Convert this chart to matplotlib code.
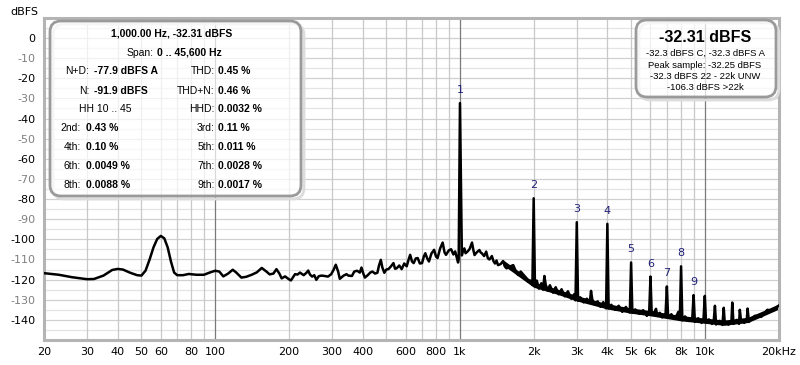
import matplotlib
matplotlib.use('Agg')
import matplotlib.pyplot as plt
import numpy as np
from matplotlib.patches import FancyBboxPatch
from matplotlib.ticker import NullLocator
from matplotlib.transforms import IdentityTransform

plt.rcParams['font.family'] = ['DejaVu Sans']
BOXFONT = ['Liberation Sans', 'DejaVu Sans']

# noise floor of the spectrum (Hz, dBFS), peaks are added from the lists below
floor_f = [20, 23, 26, 30, 32, 35, 38, 40, 42, 45, 48, 50, 52, 54, 56, 58, 60, 62, 64, 66, 68,
           70, 74, 78, 84, 90, 95, 100, 104, 108, 113, 118, 122, 128, 134, 141, 148, 155,
           162, 167, 173, 178, 183, 187, 193, 200, 204, 212, 217, 222, 230, 236, 240, 244,
           249, 254, 259, 265, 272, 280, 289, 298, 305, 311, 318, 323, 335, 344, 350, 362,
           370, 380, 390, 396, 403, 409, 420, 430, 439, 450, 460, 467, 475, 482, 491, 500,
           510, 522, 535, 543, 551, 565, 578, 592, 606, 617, 626, 637, 647, 660, 672, 686,
           700, 712, 722, 735, 747, 765, 784, 798, 810, 830, 850, 865, 877, 900, 920, 940,
           956, 970, 982, 988,
           1018, 1030, 1042, 1054, 1075, 1095, 1120, 1135, 1147, 1170, 1200, 1215, 1230,
           1255, 1280, 1300, 1320, 1350, 1370, 1390, 1410, 1430, 1465, 1500, 1525, 1550,
           1600, 1650, 1690, 1730, 1770, 1820, 1860, 1900, 1940, 1976,
           2024, 2060, 2100, 2150, 2185, 2240, 2280, 2330, 2400, 2460, 2530, 2600, 2680,
           2760, 2850, 2930, 2964,
           3036, 3100, 3200, 3300, 3390, 3470, 3550, 3650, 3750, 3850, 3952,
           4048, 4150, 4300, 4450, 4600, 4760, 4940,
           5060, 5200, 5400, 5600, 5800, 5928,
           6072, 6250, 6400, 6550, 6700, 6916,
           7084, 7300, 7500, 7700, 7904,
           8096, 8300, 8600, 8892,
           9108, 9400, 9700, 9880, 10120, 10400, 10700, 10880, 11120, 11500, 11800, 12050,
           12500, 12850, 13100, 13500, 13800, 14050, 14500, 14850, 15150, 16000, 17000,
           18000, 19000, 20000]
floor_db = [-116.8, -117.6, -118.8, -119.8, -119.7, -118.0, -115.2, -114.7, -115.0, -116.6,
            -117.8, -118.0, -115.5, -110.0, -104.0, -99.8, -98.3, -99.5, -104.0, -111.0, -116.5,
            -117.8, -117.8, -117.2, -117.6, -117.6, -116.5, -115.6, -116.0, -118.4, -117.0,
            -115.1, -116.5, -119.0, -118.6, -117.6, -116.4, -114.2, -116.0, -117.4, -117.0,
            -114.8, -117.0, -119.4, -118.4, -119.8, -120.4, -117.3, -117.5, -116.5, -117.8,
            -116.6, -115.5, -117.5, -118.5, -117.8, -120.1, -118.3, -118.0, -118.2, -118.5,
            -117.3, -115.0, -112.6, -116.0, -119.6, -118.0, -117.3, -118.0, -118.2, -116.0,
            -115.6, -116.5, -114.0, -117.0, -119.0, -117.8, -116.5, -116.0, -117.0, -116.6,
            -113.0, -110.2, -114.0, -116.6, -115.0, -114.8, -113.5, -111.8, -114.6, -114.4,
            -113.0, -114.8, -112.0, -113.4, -110.0, -107.7, -111.0, -111.8, -109.5, -109.3,
            -112.0, -111.8, -108.5, -106.9, -109.5, -111.0, -107.0, -105.2, -108.5, -109.3,
            -104.5, -101.6, -106.5, -107.7, -105.5, -104.9, -107.5, -106.0, -109.0, -111.5,
            -110.0,
            -108.0, -105.3, -104.5, -106.9, -106.0, -104.8, -101.6, -105.5, -107.8, -106.5,
            -105.3, -106.5, -107.0, -108.3, -106.1, -109.4, -110.0, -108.3, -110.8, -112.0,
            -110.5, -112.8, -112.3, -110.8, -113.5, -114.4, -113.5, -112.8, -115.8, -117.7,
            -116.0, -117.7, -119.0, -121.0, -120.5, -122.7,
            -122.5, -120.5, -124.5, -121.8, -125.0, -122.5, -125.5, -122.8, -126.5, -123.8,
            -127.3, -124.8, -128.3, -125.8, -129.5, -127.2, -130.3,
            -130.5, -128.8, -131.3, -129.5, -131.5, -129.8, -132.3, -130.8, -133.5, -131.2,
            -134.3,
            -134.3, -132.5, -135.0, -133.0, -136.0, -133.6, -136.4,
            -136.5, -134.8, -137.0, -135.2, -138.0, -136.0,
            -137.6, -135.8, -138.0, -136.5, -138.8, -136.8,
            -139.0, -137.2, -139.5, -137.5, -140.0,
            -140.2, -138.3, -140.5, -138.8,
            -141.0, -139.2, -141.5, -139.6, -141.4, -139.8, -142.0, -140.2, -142.3, -140.5,
            -142.5, -140.5, -142.4, -140.4, -142.0, -140.0, -142.0, -140.0, -141.5, -139.5,
            -141.0, -138.0, -138.5, -135.0, -135.5, -133.0]

# width of the dense noise band above 1.5 kHz
band_f = [1500, 2000, 2500, 3000, 4000, 5000, 6000, 8000, 10000, 12000, 15000, 18000, 20000]
band_hi = [-110.2, -121.2, -124.7, -128.0, -132.0, -134.1, -135.4, -137.9, -139.1, -140.1,
           -138.7, -134.6, -132.1]
band_lo = [-112.8, -123.8, -127.3, -130.6, -134.6, -136.7, -138.0, -140.5, -141.7, -142.7,
           -141.3, -137.2, -134.7]

# harmonics 1..9 (Hz, dBFS)
harm_n = [1, 2, 3, 4, 5, 6, 7, 8, 9]
harm_f = [1000, 2000, 3000, 4000, 5000, 6000, 7000, 8000, 9000]
harm_db = [-32.31, -79.6, -91.5, -92.3, -111.5, -118.5, -123.4, -113.4, -127.7]

# other small spurs
spur_f = [2212, 3430, 6320, 7800, 10000, 11000, 11950, 12950, 13900, 14950]
spur_db = [-118.2, -125.6, -134.5, -136.0, -128.1, -133.0, -134.0, -131.4, -135.0, -134.4]

xtick_pos = [20, 30, 40, 50, 60, 80, 100, 200, 300, 400, 600, 800, 1000, 2000, 3000, 4000,
             5000, 6000, 8000, 10000, 20000]
xtick_lab = ['20', '30', '40', '50', '60', '80', '100', '200', '300', '400', '600', '800',
             '1k', '2k', '3k', '4k', '5k', '6k', '8k', '10k', '20kHz']
ytick_pos = list(range(0, -150, -10))

W, H = 800, 365
fig = plt.figure(figsize=(W / 100, H / 100), dpi=100)
ax = fig.add_axes([44 / W, 25 / H, 734.5 / W, 322.1 / H])
ax.set_xscale('log')
ax.set_xlim(20, 20000)
ax.set_ylim(-150, 10)

# grid
for y in range(5, -150, -5):
    ax.axhline(y, color='#d0d0d0' if y % 10 == 0 else '#e4e4e4', lw=0.9, zorder=0)
for d in [10, 100, 1000]:
    for m in range(2, 10):
        if 20 <= m * d <= 20000:
            ax.axvline(m * d, color='#c8c8c8', lw=0.9, zorder=0.2)
for f in [100, 1000, 10000]:
    ax.axvline(f, color='#7a7a7a', lw=0.9, zorder=0.4)

# spectrum
pts = sorted(list(zip(floor_f, floor_db)) + list(zip(harm_f, harm_db)) + list(zip(spur_f, spur_db)))
sf = [p[0] for p in pts]
sd = [p[1] for p in pts]
ax.fill_between(band_f, band_lo, band_hi, color='black', lw=0, zorder=2)
ax.plot(sf, sd, color='black', lw=1.8, zorder=3, solid_joinstyle='round')

for n, f, db in zip(harm_n, harm_f, harm_db):
    ax.annotate(str(n), (f, db), xytext=(0, 9.4), textcoords='offset points',
                ha='center', va='center', fontsize=8, color='#202078')

ax.set_xticks(xtick_pos)
ax.set_xticklabels(xtick_lab)
ax.xaxis.set_minor_locator(NullLocator())
ax.set_yticks(ytick_pos)
ax.set_yticklabels([str(v) for v in ytick_pos])
for lab, v in zip(ax.get_yticklabels(), ytick_pos):
    lab.set_color('black' if v % 20 == 0 else '#808080')
ax.tick_params(length=0, labelsize=8, pad=5)
ax.tick_params(axis='y', pad=6)
for s in ax.spines.values():
    s.set_color('#b4b4b4')
    s.set_linewidth(2.2)

fig.text(10 / W, 1 - 12 / H, 'dBFS', fontsize=8, va='center')


def box(x0, y0, x1, y1):
    sh = FancyBboxPatch((x0 + 3, H - y1 - 3), x1 - x0, y1 - y0,
                        boxstyle='round,pad=0,rounding_size=11', transform=IdentityTransform(),
                        facecolor='none', edgecolor='#dcdcdc', lw=2.0)
    p = FancyBboxPatch((x0, H - y1), x1 - x0, y1 - y0,
                       boxstyle='round,pad=0,rounding_size=11', transform=IdentityTransform(),
                       facecolor=(1, 1, 1, 0.72), edgecolor='#9a9a9a', lw=2.0)
    fig.patches.extend([sh, p])


def txt(x, y, s, ha='left', bold=False, size=7.5):
    return fig.text(x / W, 1 - y / H, s, ha=ha, va='center', fontsize=size,
                    weight='bold' if bold else 'normal', family=BOXFONT)


box(50, 21, 301, 196)
txt(172, 33, '1,000.00 Hz, -32.31 dBFS', ha='center', bold=True)
txt(154, 52.5, 'Span:', ha='right')
txt(157, 52.5, '0 .. 45,600 Hz', bold=True)

rows = [71.5, 90.5, 109.3, 128.2, 147.1, 166, 185]
left_items = [('N+D:', '-77.9 dBFS A'), ('N:', '-91.9 dBFS')]
right_items = [('THD:', '0.45 %'), ('THD+N:', '0.46 %'), ('HHD:', '0.0032 %'),
               ('3rd:', '0.11 %'), ('5th:', '0.011 %'), ('7th:', '0.0028 %'), ('9th:', '0.0017 %')]
harm_items = [('2nd:', '0.43 %'), ('4th:', '0.10 %'), ('6th:', '0.0049 %'), ('8th:', '0.0088 %')]

for (lab, val), y in zip(left_items, rows[:2]):
    txt(89.5, y, lab, ha='right')
    txt(93.5, y, val, bold=True)
txt(105, rows[2], 'HH 10 .. 45', ha='center')
for (lab, val), y in zip(harm_items, rows[3:]):
    txt(81, y, lab, ha='right')
    txt(85.5, y, val, bold=True)
for (lab, val), y in zip(right_items, rows):
    txt(214.5, y, lab, ha='right')
    txt(218.5, y, val, bold=True)

box(636, 20, 776, 97)
txt(705, 37, '-32.31 dBFS', ha='center', bold=True, size=11.5)
for s, y in zip(['-32.3 dBFS C, -32.3 dBFS A', 'Peak sample: -32.25 dBFS',
                 '-32.3 dBFS 22 - 22k UNW', '-106.3 dBFS >22k'], [53.3, 65, 76.3, 87.5]):
    txt(705, y, s, ha='center', size=6.8)

fig.savefig('out.png', dpi=100)
